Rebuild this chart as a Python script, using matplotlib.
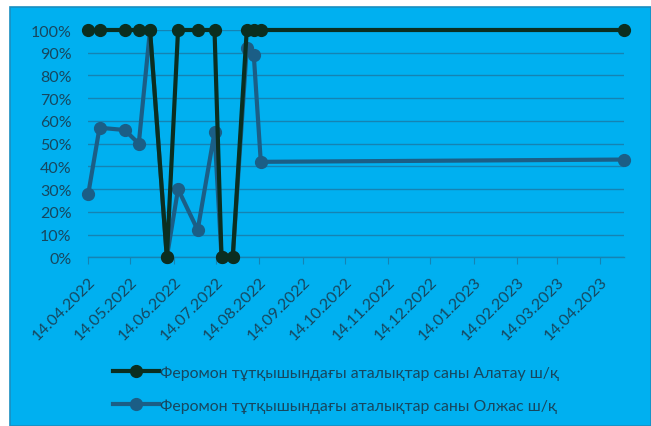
import datetime as dt
import matplotlib
matplotlib.use("Agg")
import matplotlib.pyplot as plt
import matplotlib.dates as mdates
from matplotlib.patches import Rectangle

# Observation dates (shared by both traps)
dates = [
    "14.04.2022", "22.04.2022", "10.05.2022", "20.05.2022", "28.05.2022",
    "09.06.2022", "17.06.2022", "01.07.2022", "13.07.2022", "18.07.2022",
    "26.07.2022", "05.08.2022", "10.08.2022", "15.08.2022", "01.05.2023",
]
# Share of males in pheromone traps, %
alatau = [100, 100, 100, 100, 100, 0, 100, 100, 100, 0, 0, 100, 100, 100, 100]
olzhas = [28, 57, 56, 50, 100, 0, 30, 12, 55, 0, 0, 92, 89, 42, 43]

series_names = [
    "Феромон тұтқышындағы аталықтар саны Алатау ш/қ",
    "Феромон тұтқышындағы аталықтар саны Олжас ш/қ",
]
tick_dates = [
    "14.04.2022", "14.05.2022", "14.06.2022", "14.07.2022", "14.08.2022",
    "14.09.2022", "14.10.2022", "14.11.2022", "14.12.2022", "14.01.2023",
    "14.02.2023", "14.03.2023", "14.04.2023",
]

plt.rcParams["font.family"] = ["Lato", "DejaVu Sans"]

to_date = lambda s: dt.datetime.strptime(s, "%d.%m.%Y")
x = [to_date(d) for d in dates]
xt = [to_date(d) for d in tick_dates]

BG = "#00B0F0"
TXT = "#17475f"
GRID = "#1583b3"
C_ALATAU = "#0b2e20"
C_OLZHAS = "#1b5e86"

W, H = 651, 427
fig = plt.figure(figsize=(W / 100, H / 100), dpi=100)
fig.patch.set_facecolor("white")
fig.patches.append(Rectangle((10 / W, 0), 1 - 10 / W, 1 - 8 / H,
                             transform=fig.transFigure, facecolor=BG,
                             edgecolor="#1a8fc0", linewidth=1.2, zorder=-5))

ax = fig.add_axes([88.3 / W, 1 - 258.3 / H, (624 - 88.3) / W, (258.3 - 31) / H])
ax.set_facecolor("none")
ax.set_zorder(2)

ax.plot(x, olzhas, color=C_OLZHAS, lw=3.0, marker="o", ms=8.5,
        label=series_names[1], zorder=3, solid_joinstyle="round", clip_on=False)
ax.plot(x, alatau, color=C_ALATAU, lw=3.0, marker="o", ms=8.5,
        label=series_names[0], zorder=4, solid_joinstyle="round", clip_on=False)

ax.set_xlim(x[0], x[-1])
ax.set_ylim(0, 100)
ax.set_yticks(range(0, 101, 10))
ax.set_yticklabels([f"{v}%" for v in range(0, 101, 10)])
ax.set_xticks(xt)
ax.xaxis.set_major_formatter(mdates.DateFormatter("%d.%m.%Y"))
for lab in ax.get_xticklabels():
    lab.set_rotation(45)
    lab.set_ha("right")
    lab.set_rotation_mode("anchor")

ax.grid(axis="y", color=GRID, lw=1.0, zorder=1)
ax.set_axisbelow(True)
for s in ["top", "right", "left"]:
    ax.spines[s].set_visible(False)
ax.spines["bottom"].set_color(GRID)
ax.spines["bottom"].set_linewidth(1.0)
ax.tick_params(axis="y", length=0, pad=12, labelsize=11.5, labelcolor=TXT)
ax.tick_params(axis="x", length=5, color=GRID, pad=7, labelsize=11.5, labelcolor=TXT)

handles, labels = ax.get_legend_handles_labels()
leg = fig.legend(handles[::-1], labels[::-1], loc="center",
                 bbox_to_anchor=(336 / W, 1 - 390 / H), frameon=False,
                 fontsize=11.4, labelspacing=1.15, handlelength=2.9,
                 handletextpad=0.1, labelcolor=TXT)
leg.set_zorder(3)

fig.savefig("out.png", dpi=100, facecolor=fig.get_facecolor())
